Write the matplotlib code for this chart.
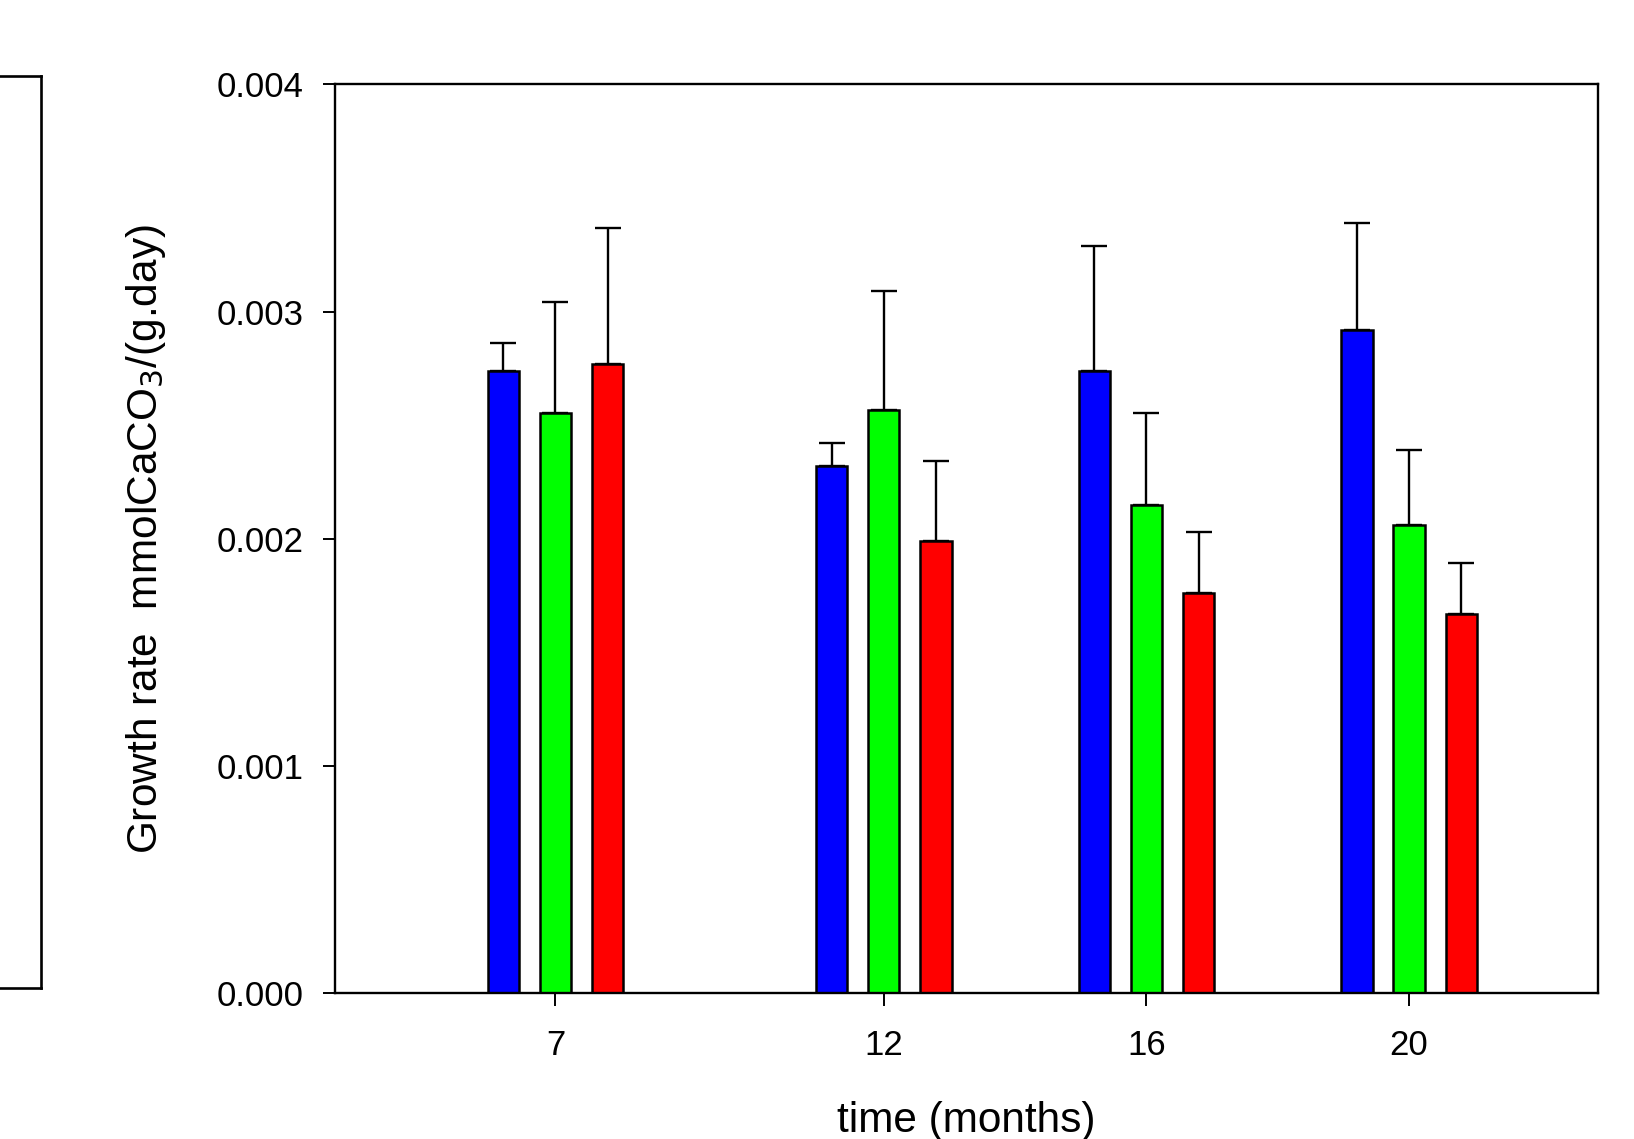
import numpy as np
import matplotlib
matplotlib.use("Agg")
import matplotlib.pyplot as plt
from matplotlib.lines import Line2D

plt.rcParams['font.family'] = ['Liberation Sans', 'DejaVu Sans']

# data
months = [7, 12, 16, 20]
blue = [0.00274, 0.00232, 0.00274, 0.00292]
blue_err = [0.00012, 0.00010, 0.00055, 0.00047]
green = [0.002555, 0.002565, 0.00215, 0.00206]
green_err = [0.000485, 0.000525, 0.000405, 0.00033]
red = [0.00277, 0.00199, 0.00176, 0.00167]
red_err = [0.00060, 0.00035, 0.00027, 0.000225]
yticks = [0.000, 0.001, 0.002, 0.003, 0.004]

W, H = 1634, 1139
fig = plt.figure(figsize=(W / 100, H / 100), dpi=100)
ax = fig.add_axes([334.5 / W, 1 - 993 / H, (1597.5 - 334.5) / W, (993 - 84.4) / H])

x = np.array(months, dtype=float)
offset = 0.794
width = 0.476
series = [(blue, blue_err, '#0000ff', -offset),
          (green, green_err, '#00ff00', 0.0),
          (red, red_err, '#ff0000', offset)]
for vals, errs, col, dx in series:
    ax.bar(x + dx, vals, width=width, color=col, edgecolor='black',
           linewidth=1.8, zorder=2)
    ax.errorbar(x + dx, vals, yerr=[np.zeros(len(errs)), errs], fmt='none',
                ecolor='black', elinewidth=1.7, capsize=9.5, capthick=1.7, zorder=1)

ax.set_xlim(3.635, 22.87)
ax.set_ylim(0, 0.004)
ax.set_xticks(months)
ax.set_xticklabels([str(m) for m in months])
ax.set_yticks(yticks)
ax.set_yticklabels(['%.3f' % v for v in yticks])
ax.tick_params(axis='both', direction='out', length=9, width=1.4, labelsize=25)
ax.tick_params(axis='x', pad=17)
ax.tick_params(axis='y', pad=13)
for sp in ax.spines.values():
    sp.set_linewidth(1.7)

fig.text(966 / W, 1 - 1121 / H, 'time (months)', ha='center', va='center', fontsize=30.5)
fig.text(146 / W, 1 - (84.4 + 993) / 2 / H, 'Growth rate  mmolCaCO$_3$/(g.day)',
         ha='center', va='center', rotation=90, fontsize=30.5)

# partial box at the left edge of the page
bx, by0, by1 = 40.6 / W, 1 - 76 / H, 1 - 988 / H
for xs, ys in [([0, bx], [by0, by0]), ([bx, bx], [by0, by1]), ([0, bx], [by1, by1])]:
    fig.add_artist(Line2D(xs, ys, transform=fig.transFigure, color='black', linewidth=1.9))

fig.savefig('out.png', dpi=100)
